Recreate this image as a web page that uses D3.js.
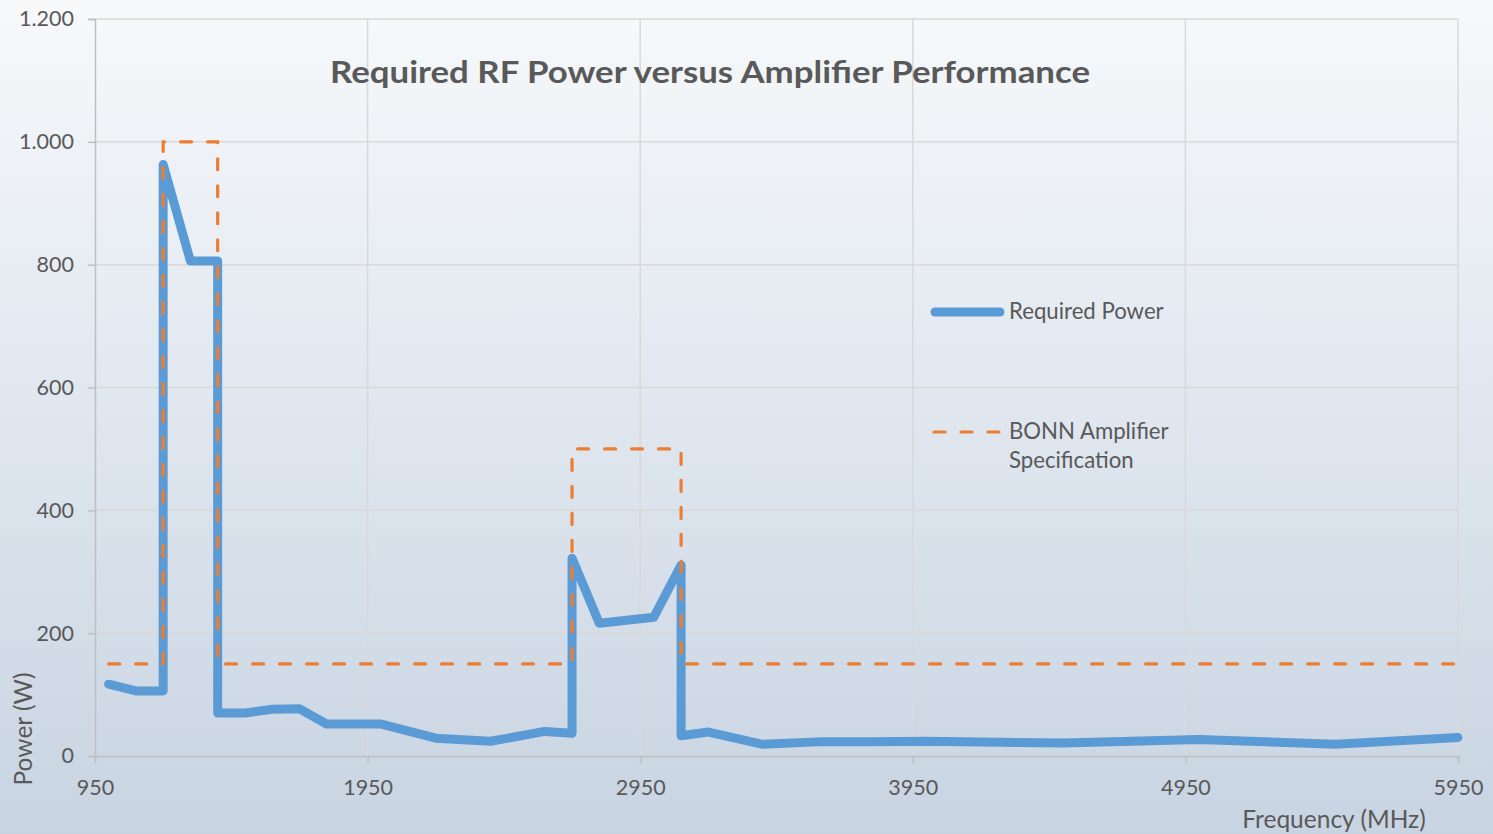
<!DOCTYPE html>
<html><head><meta charset="utf-8">
<script src="https://cdn.jsdelivr.net/npm/d3@7"></script>
<style>html,body{margin:0;padding:0;overflow:hidden;background:#fff;} svg{display:block;}</style>
</head><body>
<script>
// ---- data ----
const requiredFreq  = [1000,1100,1200,1200,1300,1400,1400,1500,1600,1700,1800,2000,2200,2400,2600,2700,2700,2800,3000,3100,3100,3200,3400,3600,3800,4000,4500,5000,5500,5950];
const requiredPower = [117, 106, 106, 963, 806, 806, 70,  70,  76,  77,  52,  52,  29,  24,  40,  37,  322, 216, 226, 311, 33,  39,  19,  23,  23,  24,  21,  27,  19,  30];
const specFreq  = [1000,1200,1200,1400,1400,2700,2700,3100,3100,5950];
const specPower = [150, 150, 1000,1000,150, 150, 500, 500, 150, 150];
const xTicks = [950,1950,2950,3950,4950,5950];
const yTicks = [0,200,400,600,800,1000,1200];
const yTickLabels = ["0","200","400","600","800","1.000","1.200"];
const seriesNames = ["Required Power","BONN Amplifier|Specification"];
const titleText = "Required RF Power versus Amplifier Performance";
const xTitle = "Frequency (MHz)";
const yTitle = "Power (W)";

(function(){
const W = 1493, H = 834;
const mL = 95, mR = 1458, mT = 19, mB = 756;
const font = "Lato, 'Open Sans', sans-serif";
const textColor = "#595959";

const svg = d3.select("body").append("svg").attr("width", W).attr("height", H);
const defs = svg.append("defs");
const grad = defs.append("linearGradient").attr("id","bg").attr("x1",0).attr("y1",0).attr("x2",0).attr("y2",1);
grad.append("stop").attr("offset","0%").attr("stop-color","#f7f9fb");
grad.append("stop").attr("offset","100%").attr("stop-color","#c8d4e2");
svg.append("rect").attr("width",W).attr("height",H).attr("fill","url(#bg)");

const x = d3.scaleLinear().domain([950,5950]).range([mL,mR]);
const y = d3.scaleLinear().domain([0,1200]).range([mB,mT]);

// gridlines
svg.append("g").selectAll("line").data(yTicks.filter(d=>d>0)).join("line")
  .attr("x1",mL).attr("x2",mR).attr("y1",d=>y(d)).attr("y2",d=>y(d))
  .attr("stroke","#d9d9d9").attr("stroke-width",1.5);
svg.append("g").selectAll("line").data(xTicks.filter(d=>d>950)).join("line")
  .attr("x1",d=>x(d)).attr("x2",d=>x(d)).attr("y1",mT).attr("y2",mB)
  .attr("stroke","#d9d9d9").attr("stroke-width",1.5);

// axes
const yAxis = d3.axisLeft(y).tickValues(yTicks).tickFormat((d,i)=>yTickLabels[i]).tickSize(7).tickPadding(14);
const gy = svg.append("g").attr("transform",`translate(${mL},0)`).call(yAxis);
const xAxis = d3.axisBottom(x).tickValues(xTicks).tickFormat(d3.format("d")).tickSize(7).tickPadding(17);
const gx = svg.append("g").attr("transform",`translate(0,${mB})`).call(xAxis);
[gx,gy].forEach(g=>{
  g.selectAll(".domain").attr("stroke","#bfbfbf").attr("stroke-width",1.5);
  g.selectAll(".tick line").attr("stroke","#bfbfbf").attr("stroke-width",1.5);
  g.selectAll("text").attr("fill",textColor).style("font-family",font).style("font-size","21.5px");
});

// lines
const line = d3.line().x(d=>x(d[0])).y(d=>y(d[1]));
svg.append("path").datum(requiredFreq.map((f,i)=>[f,requiredPower[i]]))
  .attr("d",line).attr("fill","none").attr("stroke","#5b9bd5").attr("stroke-width",9)
  .attr("stroke-linejoin","round").attr("stroke-linecap","round");
svg.append("path").datum(specFreq.map((f,i)=>[f,specPower[i]]))
  .attr("d",line).attr("fill","none").attr("stroke","#ed7d31").attr("stroke-width",3.2)
  .attr("stroke-dasharray","11,16").attr("stroke-linecap","round");

// title
svg.append("text").attr("x",710).attr("y",83).attr("text-anchor","middle")
  .attr("fill",textColor).style("font-family",font).style("font-size","31px").style("font-weight","bold")
  .attr("textLength",760).attr("lengthAdjust","spacingAndGlyphs").text(titleText);

// axis titles
svg.append("text").attr("x",1334).attr("y",828).attr("text-anchor","middle")
  .attr("fill",textColor).style("font-family",font).style("font-size","24.5px").text(xTitle);
svg.append("text").attr("transform","translate(32,729) rotate(-90)").attr("text-anchor","middle")
  .attr("fill",textColor).style("font-family",font).style("font-size","24.5px").text(yTitle);

// legend
const lg = svg.append("g");
lg.append("line").attr("x1",935).attr("x2",1000).attr("y1",312).attr("y2",312)
  .attr("stroke","#5b9bd5").attr("stroke-width",9).attr("stroke-linecap","round");
lg.append("text").attr("x",1009).attr("y",319).attr("fill",textColor)
  .style("font-family",font).style("font-size","22.2px").text(seriesNames[0]);
lg.append("line").attr("x1",934).attr("x2",1002).attr("y1",432).attr("y2",432)
  .attr("stroke","#ed7d31").attr("stroke-width",3.2).attr("stroke-dasharray","11,16").attr("stroke-linecap","round");
const parts = seriesNames[1].split("|");
lg.append("text").attr("x",1009).attr("y",439).attr("fill",textColor)
  .style("font-family",font).style("font-size","22.2px").text(parts[0]);
lg.append("text").attr("x",1009).attr("y",468).attr("fill",textColor)
  .style("font-family",font).style("font-size","22.2px").text(parts[1]);
})();
</script>
</body></html>
